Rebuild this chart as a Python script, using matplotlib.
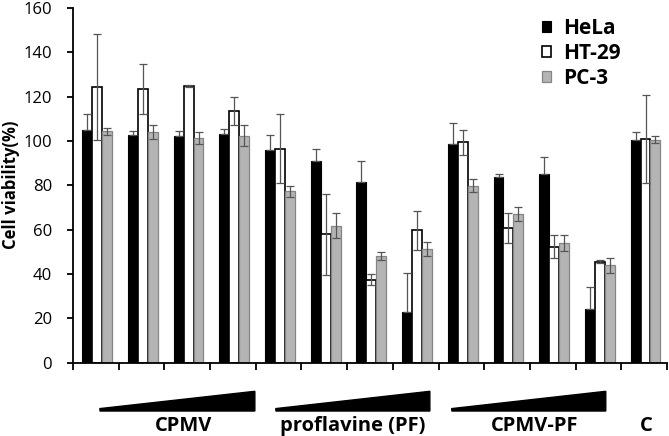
import numpy as np
import matplotlib
matplotlib.use("Agg")
import matplotlib.pyplot as plt
from matplotlib.patches import Polygon

plt.rcParams['font.family'] = ['Open Sans', 'DejaVu Sans']

series = ["HeLa", "HT-29", "PC-3"]
hela = [104.9, 102.8, 102.4, 103.1, 96.0, 90.9, 81.3, 23.0, 98.4, 83.8, 84.9, 24.2, 100.6]
hela_err = [7.3, 1.7, 2.0, 2.1, 6.5, 5.3, 9.5, 17.3, 9.7, 1.3, 7.8, 10.1, 3.5]
ht29 = [124.2, 123.5, 124.7, 113.5, 96.5, 57.8, 37.3, 59.6, 99.3, 60.7, 52.2, 45.5, 100.9]
ht29_err = [24.0, 11.3, 0.5, 6.2, 15.5, 18.3, 2.5, 8.6, 5.8, 6.8, 5.2, 0.7, 20.0]
pc3 = [104.3, 104.0, 101.3, 102.4, 77.2, 61.8, 48.1, 51.2, 79.8, 67.1, 53.9, 43.8, 100.6]
pc3_err = [1.6, 3.3, 2.8, 4.6, 2.6, 5.6, 1.9, 3.1, 2.8, 3.3, 3.7, 3.2, 1.5]
treatments = ["CPMV", "proflavine (PF)", "CPMV-PF", "C"]
yticks = [0, 20, 40, 60, 80, 100, 120, 140, 160]

W, H = 669, 436
fig = plt.figure(figsize=(W / 100, H / 100), dpi=100)
ax = fig.add_axes([73 / W, (H - 362.5) / H, (667 - 73) / W, (362.5 - 8) / H])

n = len(hela)
x = np.arange(n)
bw = 0.217
off = 0.03
ekw = dict(ecolor='#555555', elinewidth=0.9, capsize=2.8, capthick=0.9)

ax.bar(x - bw + off, hela, bw, color='black', edgecolor='black', linewidth=0.8,
       yerr=[np.zeros(n), hela_err], error_kw=ekw, label=series[0], zorder=2)
ax.bar(x + off, ht29, bw, color='white', edgecolor='black', linewidth=1.2,
       yerr=ht29_err, error_kw=ekw, label=series[1], zorder=2)
ax.bar(x + bw + off, pc3, bw, color='#b4b4b4', edgecolor='#858585', linewidth=0.9,
       yerr=pc3_err, error_kw=ekw, label=series[2], zorder=2)

ax.set_xlim(-0.5, n - 0.5)
ax.set_ylim(0, 160)
ax.set_yticks(yticks)
ax.set_xticks(np.arange(n + 1) - 0.5)
ax.set_xticklabels([])
for s in ['top', 'right']:
    ax.spines[s].set_visible(False)
for s in ['left', 'bottom']:
    ax.spines[s].set_linewidth(1.3)
ax.tick_params(axis='y', direction='out', length=4, width=1.3, pad=11, labelsize=12)
ax.tick_params(axis='x', direction='out', length=5, width=1.3)

fig.text(11.5 / W, (H - 185) / H, "Cell viability(%)", rotation=90, ha='center', va='center',
         fontsize=12, fontweight='bold')

# wedges below axis
wedges = [(0.09, 3.48), (3.94, 7.31), (7.79, 11.16)]
for (a, b) in wedges:
    poly = Polygon([(a, -21.9), (b, -21.9), (b, -13.0), (a, -20.8)], closed=True,
                   facecolor='black', edgecolor='black', clip_on=False, zorder=3)
    ax.add_patch(poly)

label_x = [1.91, 5.62, 9.60, 12.04]
for lx, t in zip(label_x, treatments):
    ax.text(lx, -28.5, t, ha='center', va='center', fontsize=14.5, fontweight='bold',
            clip_on=False)

leg = ax.legend(loc='upper left', bbox_to_anchor=(527 / W, (H - 3) / H),
                bbox_transform=fig.transFigure, frameon=False,
                prop={'weight': 'bold', 'size': 15}, handlelength=0.45, handleheight=0.45,
                handletextpad=0.6, labelspacing=0.2, borderpad=0.2)

fig.savefig("out.png", dpi=100)
